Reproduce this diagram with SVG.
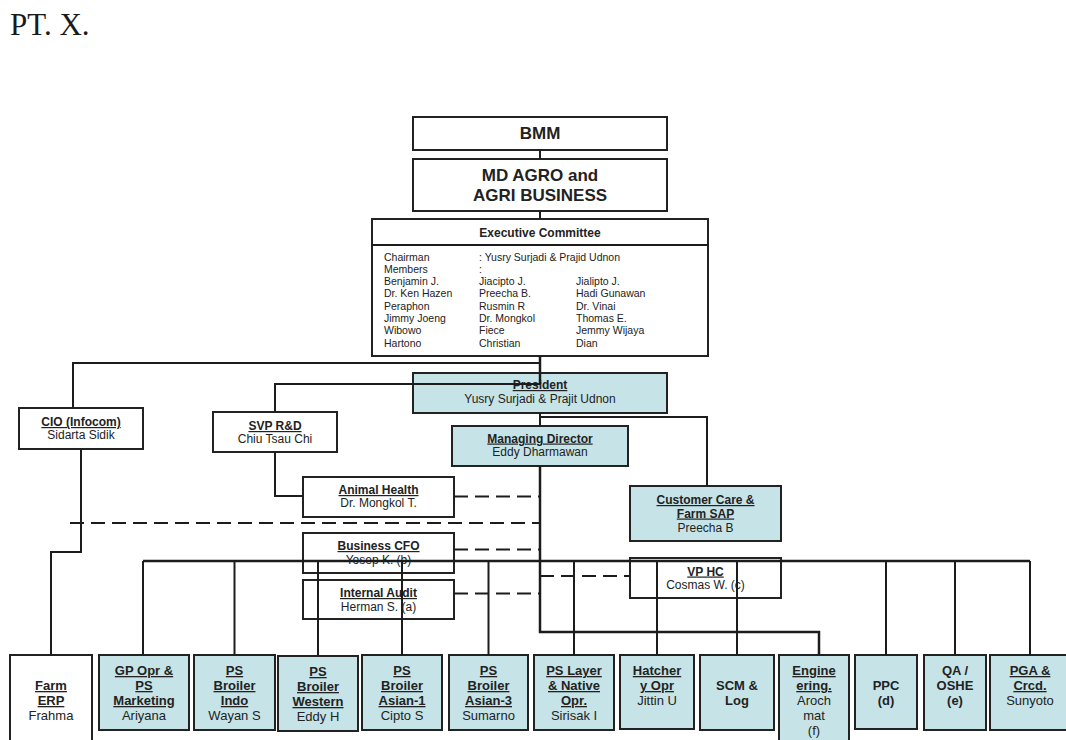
<svg xmlns="http://www.w3.org/2000/svg" width="1066" height="740" viewBox="0 0 1066 740">
  <style>
    .box { stroke: #222; stroke-width: 2; }
    .w { fill: #ffffff; }
    .t { fill: #c6e4e8; }
    .ln { fill: none; stroke: #1c1c1c; stroke-width: 2; }
    .trunk { stroke-width: 2.5; }
    .dash { stroke-dasharray: 14 7; }
    text { font-family: "Liberation Sans", Arial, sans-serif; fill: #222; text-anchor: middle; }
    .hb { font-size: 17px; font-weight: bold; }
    .ec { font-size: 12px; font-weight: bold; }
    .mem { font-size: 10.5px; text-anchor: start; }
    .ht { font-size: 12px; font-weight: bold; text-decoration: underline; }
    .nm { font-size: 12px; }
    .bt { font-size: 13px; font-weight: bold; text-decoration: underline; }
    .bb { font-size: 13px; font-weight: bold; }
    .bn { font-size: 13px; }
    .title { font-family: "Liberation Serif", "Times New Roman", serif; font-size: 31px; text-anchor: start; fill: #1a1a1a; }
  </style>

  <text class="title" x="10" y="35">PT. X.</text>

  <!-- top of the chart -->
  <g id="bmm">
    <rect class="box w" x="413" y="117" width="254" height="33"/>
    <text class="hb" x="540" y="139">BMM</text>
  </g>
  <g id="md-agro">
    <rect class="box w" x="413" y="159" width="254" height="52"/>
    <text class="hb" x="540" y="181">MD AGRO and</text>
    <text class="hb" x="540" y="201">AGRI BUSINESS</text>
  </g>
  <g id="exec-committee">
    <rect class="box w" x="372" y="219" width="336" height="137"/>
    <line class="ln" x1="372" y1="245" x2="708" y2="245"/>
    <text class="ec" x="540" y="237">Executive Committee</text>
    <text class="mem" x="384" y="260.5">Chairman</text>
    <text class="mem" x="479" y="260.5">: Yusry Surjadi &amp; Prajid Udnon</text>
    <text class="mem" x="384" y="272.8">Members</text>
    <text class="mem" x="479" y="272.8">:</text>
    <text class="mem" x="384" y="285">Benjamin J.</text>
    <text class="mem" x="479" y="285">Jiacipto J.</text>
    <text class="mem" x="576" y="285">Jialipto J.</text>
    <text class="mem" x="384" y="297.3">Dr. Ken Hazen</text>
    <text class="mem" x="479" y="297.3">Preecha B.</text>
    <text class="mem" x="576" y="297.3">Hadi Gunawan</text>
    <text class="mem" x="384" y="309.6">Peraphon</text>
    <text class="mem" x="479" y="309.6">Rusmin R</text>
    <text class="mem" x="576" y="309.6">Dr. Vinai</text>
    <text class="mem" x="384" y="322">Jimmy Joeng</text>
    <text class="mem" x="479" y="322">Dr. Mongkol</text>
    <text class="mem" x="576" y="322">Thomas E.</text>
    <text class="mem" x="384" y="334.2">Wibowo</text>
    <text class="mem" x="479" y="334.2">Fiece</text>
    <text class="mem" x="576" y="334.2">Jemmy Wijaya</text>
    <text class="mem" x="384" y="346.5">Hartono</text>
    <text class="mem" x="479" y="346.5">Christian</text>
    <text class="mem" x="576" y="346.5">Dian</text>
  </g>

  <!-- management layer -->
  <g id="president">
    <rect class="box t" x="413" y="373" width="254" height="40"/>
    <text class="ht" x="540" y="389">President</text>
    <text class="nm" x="540" y="403">Yusry Surjadi &amp; Prajit Udnon</text>
  </g>
  <g id="managing-director">
    <rect class="box t" x="452" y="426" width="176" height="40"/>
    <text class="ht" x="540" y="442.5">Managing Director</text>
    <text class="nm" x="540" y="456">Eddy Dharmawan</text>
  </g>
  <g id="cio">
    <rect class="box w" x="19" y="408" width="124" height="41"/>
    <text class="ht" x="81" y="426">CIO (Infocom)</text>
    <text class="nm" x="81" y="439">Sidarta Sidik</text>
  </g>
  <g id="svp-rnd">
    <rect class="box w" x="213" y="412" width="124" height="40"/>
    <text class="ht" x="275" y="430">SVP R&amp;D</text>
    <text class="nm" x="275" y="443">Chiu Tsau Chi</text>
  </g>
  <g id="animal-health">
    <rect class="box w" x="303" y="477" width="151" height="40"/>
    <text class="ht" x="378.5" y="494">Animal Health</text>
    <text class="nm" x="378.5" y="507">Dr. Mongkol T.</text>
  </g>
  <g id="business-cfo">
    <rect class="box w" x="303" y="533" width="151" height="40"/>
    <text class="ht" x="378.5" y="550">Business CFO</text>
    <text class="nm" x="378.5" y="564">Yosep K. (b)</text>
  </g>
  <g id="internal-audit">
    <rect class="box w" x="303" y="580" width="151" height="39"/>
    <text class="ht" x="378.5" y="597">Internal Audit</text>
    <text class="nm" x="378.5" y="610.5">Herman S. (a)</text>
  </g>
  <g id="customer-care">
    <rect class="box t" x="630" y="486" width="151" height="55"/>
    <text class="ht" x="705.5" y="504">Customer Care &amp;</text>
    <text class="ht" x="705.5" y="517.5">Farm SAP</text>
    <text class="nm" x="705.5" y="531.5">Preecha B</text>
  </g>
  <g id="vp-hc">
    <rect class="box w" x="630" y="558" width="151" height="40"/>
    <text class="ht" x="705.5" y="575.5">VP HC</text>
    <text class="nm" x="705.5" y="589.3">Cosmas W. (c)</text>
  </g>

  <!-- operating units -->
  <g id="farm-erp">
    <rect class="box w" x="10" y="655" width="82" height="95"/>
    <text class="bt" x="51" y="690">Farm</text>
    <text class="bt" x="51" y="705">ERP</text>
    <text class="bn" x="51" y="720">Frahma</text>
  </g>
  <g id="gp-opr">
    <rect class="box t" x="99" y="655" width="90" height="75"/>
    <text class="bt" x="144" y="675">GP Opr &amp;</text>
    <text class="bt" x="144" y="690">PS</text>
    <text class="bt" x="144" y="705">Marketing</text>
    <text class="bn" x="144" y="720">Ariyana</text>
  </g>
  <g id="ps-broiler-indo">
    <rect class="box t" x="194" y="655" width="81" height="75"/>
    <text class="bt" x="234.5" y="675">PS</text>
    <text class="bt" x="234.5" y="690">Broiler</text>
    <text class="bt" x="234.5" y="705">Indo</text>
    <text class="bn" x="234.5" y="720">Wayan S</text>
  </g>
  <g id="ps-broiler-western">
    <rect class="box t" x="278" y="656" width="80" height="75"/>
    <text class="bt" x="318" y="676">PS</text>
    <text class="bt" x="318" y="691">Broiler</text>
    <text class="bt" x="318" y="706">Western</text>
    <text class="bn" x="318" y="721">Eddy H</text>
  </g>
  <g id="ps-broiler-asian-1">
    <rect class="box t" x="362" y="655" width="80" height="75"/>
    <text class="bt" x="402" y="675">PS</text>
    <text class="bt" x="402" y="690">Broiler</text>
    <text class="bt" x="402" y="705">Asian-1</text>
    <text class="bn" x="402" y="720">Cipto S</text>
  </g>
  <g id="ps-broiler-asian-3">
    <rect class="box t" x="449" y="655" width="79" height="75"/>
    <text class="bt" x="488.5" y="675">PS</text>
    <text class="bt" x="488.5" y="690">Broiler</text>
    <text class="bt" x="488.5" y="705">Asian-3</text>
    <text class="bn" x="488.5" y="720">Sumarno</text>
  </g>
  <g id="ps-layer">
    <rect class="box t" x="534" y="655" width="80" height="75"/>
    <text class="bt" x="574" y="675">PS Layer</text>
    <text class="bt" x="574" y="690">&amp; Native</text>
    <text class="bt" x="574" y="705">Opr.</text>
    <text class="bn" x="574" y="720">Sirisak I</text>
  </g>
  <g id="hatchery">
    <rect class="box t" x="620" y="655" width="74" height="74"/>
    <text class="bt" x="657" y="675">Hatcher</text>
    <text class="bt" x="657" y="690">y Opr</text>
    <text class="bn" x="657" y="705">Jittin U</text>
  </g>
  <g id="scm-log">
    <rect class="box t" x="700" y="655" width="74" height="75"/>
    <text class="bb" x="737" y="690">SCM &amp;</text>
    <text class="bb" x="737" y="705">Log</text>
  </g>
  <g id="engineering">
    <rect class="box t" x="779" y="655" width="70" height="95"/>
    <text class="bt" x="814" y="675">Engine</text>
    <text class="bt" x="814" y="690">ering.</text>
    <text class="bn" x="814" y="705">Aroch</text>
    <text class="bn" x="814" y="720">mat</text>
    <text class="bn" x="814" y="735">(f)</text>
  </g>
  <g id="ppc">
    <rect class="box t" x="855" y="655" width="62" height="74"/>
    <text class="bb" x="886" y="690">PPC</text>
    <text class="bb" x="886" y="705">(d)</text>
  </g>
  <g id="qa-oshe">
    <rect class="box t" x="924" y="655" width="62" height="75"/>
    <text class="bb" x="955" y="675">QA /</text>
    <text class="bb" x="955" y="690">OSHE</text>
    <text class="bb" x="955" y="705">(e)</text>
  </g>
  <g id="pga">
    <rect class="box t" x="990" y="655" width="90" height="75"/>
    <text class="bt" x="1030" y="675">PGA &amp;</text>
    <text class="bt" x="1030" y="690">Crcd.</text>
    <text class="bn" x="1030" y="705">Sunyoto</text>
  </g>

  <!-- reporting lines -->
  <g id="connectors">
    <line class="ln" x1="540" y1="150" x2="540" y2="159"/>
    <line class="ln" x1="540" y1="211" x2="540" y2="219"/>
    <line class="ln trunk" x1="540" y1="356" x2="540" y2="384"/>
    <line class="ln" x1="540" y1="413" x2="540" y2="426"/>
    <!-- CIO -->
    <polyline class="ln" points="540,363 73,363 73,408"/>
    <polyline class="ln" points="81,449 81,552 51,552 51,655"/>
    <!-- SVP R&D and Animal Health -->
    <polyline class="ln" points="540,384 275,384 275,412"/>
    <polyline class="ln" points="275,452 275,496 303,496"/>
    <!-- Customer Care -->
    <polyline class="ln" points="540,417 707,417 707,486"/>
    <!-- trunk from MD to Engineering -->
    <polyline class="ln trunk" points="540,466 540,632 819,632 819,655"/>
    <!-- bus to the operating units -->
    <line class="ln trunk" x1="143" y1="561" x2="1030" y2="561"/>
    <line class="ln" x1="143" y1="561" x2="143" y2="655"/>
    <line class="ln" x1="234.5" y1="561" x2="234.5" y2="655"/>
    <line class="ln" x1="318" y1="561" x2="318" y2="656"/>
    <line class="ln" x1="402" y1="561" x2="402" y2="655"/>
    <line class="ln" x1="488.5" y1="561" x2="488.5" y2="655"/>
    <line class="ln" x1="574" y1="561" x2="574" y2="655"/>
    <line class="ln" x1="657" y1="561" x2="657" y2="655"/>
    <line class="ln" x1="737" y1="561" x2="737" y2="655"/>
    <line class="ln" x1="886" y1="561" x2="886" y2="655"/>
    <line class="ln" x1="955" y1="561" x2="955" y2="655"/>
    <line class="ln" x1="1030" y1="561" x2="1030" y2="655"/>
    <!-- dotted-line (functional) reporting -->
    <line class="ln dash" x1="70" y1="523" x2="540" y2="523"/>
    <line class="ln dash" x1="454" y1="496.5" x2="540" y2="496.5"/>
    <line class="ln dash" x1="454" y1="549.5" x2="540" y2="549.5"/>
    <line class="ln dash" x1="454" y1="593.5" x2="540" y2="593.5"/>
    <line class="ln dash" x1="540" y1="576" x2="630" y2="576"/>
  </g>
</svg>
